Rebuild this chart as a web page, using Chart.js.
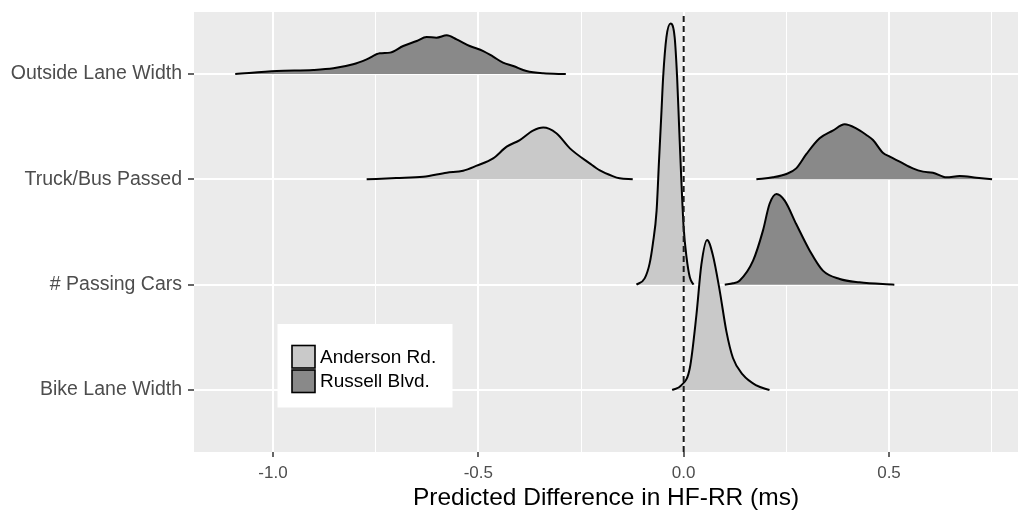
<!DOCTYPE html>
<html><head><meta charset="utf-8">
<script src="https://cdn.jsdelivr.net/npm/chart.js@4/dist/chart.umd.min.js"></script>
<style>html,body{margin:0;padding:0;background:#fff}#wrap{width:1018px;height:512px}</style>
</head><body><div id="wrap"><canvas id="c" width="1018" height="512"></canvas></div>
<script>
// rows, bottom (1) to top (4)
const categories = ['Bike Lane Width', '# Passing Cars', 'Truck/Bus Passed', 'Outside Lane Width'];
const seriesNames = ['Anderson Rd.', 'Russell Blvd.'];
const xTicks = [-1, -0.75, -0.5, -0.25, 0, 0.25, 0.5, 0.75];
const xMajor = [-1, -0.5, 0, 0.5];
const referenceX = 0;
const xTitle = 'Predicted Difference in HF-RR (ms)';

// ridge densities: x values and ridge heights (row units)
const outsideRussellX = [-1.092, -0.991, -0.902, -0.853, -0.805, -0.772, -0.740, -0.715, -0.683, -0.650, -0.626, -0.602, -0.577, -0.553, -0.521, -0.488, -0.464, -0.440, -0.415, -0.383, -0.342, -0.287];
const outsideRussellH = [0, 0.028, 0.038, 0.054, 0.092, 0.139, 0.196, 0.203, 0.266, 0.313, 0.351, 0.345, 0.367, 0.329, 0.266, 0.218, 0.165, 0.108, 0.076, 0.028, 0.006, 0];

const truckAndersonX = [-0.772, -0.700, -0.634, -0.577, -0.537, -0.504, -0.464, -0.431, -0.399, -0.367, -0.342, -0.310, -0.277, -0.229, -0.204, -0.173, -0.156, -0.124];
const truckAndersonH = [0, 0.012, 0.025, 0.063, 0.082, 0.130, 0.199, 0.310, 0.373, 0.462, 0.491, 0.437, 0.294, 0.152, 0.085, 0.031, 0.010, 0];

const truckRussellX = [0.177, 0.217, 0.250, 0.274, 0.299, 0.331, 0.363, 0.392, 0.420, 0.445, 0.461, 0.485, 0.502, 0.526, 0.558, 0.583, 0.607, 0.640, 0.672, 0.713, 0.751];
const truckRussellH = [0, 0.019, 0.051, 0.104, 0.241, 0.389, 0.462, 0.522, 0.484, 0.421, 0.373, 0.253, 0.215, 0.168, 0.104, 0.073, 0.063, 0.019, 0.032, 0.016, 0];

const carsAndersonX = [-0.115, -0.095, -0.083, -0.075, -0.066, -0.060, -0.054, -0.050, -0.042, -0.032, -0.022, -0.016, -0.011, -0.006, 0.000, 0.007, 0.015, 0.024];
const carsAndersonH = [0, 0.06, 0.20, 0.39, 0.70, 1.18, 1.65, 1.97, 2.35, 2.48, 2.35, 1.97, 1.49, 1.02, 0.54, 0.26, 0.07, 0];

const carsRussellX = [0.100, 0.120, 0.136, 0.169, 0.193, 0.209, 0.226, 0.246, 0.274, 0.307, 0.339, 0.380, 0.428, 0.513];
const carsRussellH = [0, 0.013, 0.038, 0.228, 0.513, 0.766, 0.861, 0.798, 0.576, 0.323, 0.133, 0.054, 0.022, 0];

const bikeAndersonX = [-0.028, -0.006, 0.015, 0.031, 0.043, 0.057, 0.071, 0.088, 0.104, 0.120, 0.144, 0.177, 0.209];
const bikeAndersonH = [0, 0.044, 0.209, 0.712, 1.187, 1.424, 1.282, 0.937, 0.557, 0.304, 0.146, 0.044, 0];

const fillColors = ['#C9C9C9', '#898989'];
const yMin = 0.4114, yMax = 4.5886;

function ridge(label, row, xs, hs, series) {
  return {
    label: label,
    data: xs.map((x, i) => ({x: x, y: row + hs[i]})),
    fill: {value: row},
    backgroundColor: fillColors[series],
    borderColor: '#000',
    borderWidth: 2,
    pointRadius: 0,
    cubicInterpolationMode: 'monotone',
    order: 1
  };
}

const datasets = [
  ridge(seriesNames[1], 4, outsideRussellX, outsideRussellH, 1),
  ridge(seriesNames[0], 3, truckAndersonX, truckAndersonH, 0),
  ridge(seriesNames[1], 3, truckRussellX, truckRussellH, 1),
  ridge(seriesNames[0], 2, carsAndersonX, carsAndersonH, 0),
  ridge(seriesNames[1], 2, carsRussellX, carsRussellH, 1),
  ridge(seriesNames[0], 1, bikeAndersonX, bikeAndersonH, 0),
  {
    label: 'ref',
    data: [{x: referenceX, y: yMin}, {x: referenceX, y: yMax}],
    borderColor: '#1a1a1a', borderWidth: 2, borderDash: [6, 4],
    pointRadius: 0, fill: false, order: -1
  }
];

const panelBg = {
  id: 'panelBg',
  beforeDraw(chart) {
    const {ctx, chartArea: a} = chart;
    ctx.save(); ctx.fillStyle = '#EBEBEB';
    ctx.fillRect(a.left, a.top, a.right - a.left, a.bottom - a.top);
    ctx.restore();
  }
};

const boxLegend = {
  id: 'boxLegend',
  afterDraw(chart) {
    const ctx = chart.ctx;
    ctx.save();
    ctx.fillStyle = '#fff';
    ctx.fillRect(277.5, 324, 175, 83.5);
    ctx.font = '19px "Liberation Sans", Arial, sans-serif';
    ctx.textBaseline = 'middle';
    seriesNames.forEach((name, i) => {
      const y = 345.5 + i * 24.5;
      ctx.fillStyle = fillColors[i];
      ctx.fillRect(292, y, 23, 22.5);
      ctx.strokeStyle = '#000'; ctx.lineWidth = 1.6;
      ctx.strokeRect(292, y, 23, 22.5);
      ctx.fillStyle = '#000';
      ctx.fillText(name, 320, y + 12);
    });
    ctx.restore();
  }
};

new Chart(document.getElementById('c'), {
  type: 'line',
  data: {datasets: datasets},
  plugins: [panelBg, boxLegend],
  options: {
    responsive: false, animation: false, devicePixelRatio: 1,
    layout: {padding: {top: 12, right: 0, left: 0, bottom: 0}},
    plugins: {legend: {display: false}, tooltip: {enabled: false}},
    scales: {
      x: {
        type: 'linear', min: -1.1924, max: 0.8141,
        afterBuildTicks: s => { s.ticks = xTicks.map(v => ({value: v})); },
        ticks: {
          autoSkip: false, maxRotation: 0, padding: 6,
          callback: v => xMajor.includes(v) ? v.toFixed(1) : '',
          font: {family: '"Liberation Sans", Arial, sans-serif', size: 17},
          color: '#4D4D4D'
        },
        grid: {
          color: '#fff',
          lineWidth: c => (c.tick && xMajor.includes(c.tick.value)) ? 2 : 1,
          tickColor: c => (c.tick && xMajor.includes(c.tick.value)) ? '#333' : 'rgba(0,0,0,0)',
          tickLength: 5, tickWidth: 1.5
        },
        border: {display: false},
        title: {display: true, text: xTitle, color: '#000',
          font: {family: '"Liberation Sans", Arial, sans-serif', size: 24.5},
          padding: {top: 0, bottom: -1}},
        afterFit: s => { s.height = 60; s.paddingLeft = 0; s.paddingRight = 0; }
      },
      y: {
        type: 'linear', min: yMin, max: yMax,
        afterBuildTicks: s => { s.ticks = categories.map((c, i) => ({value: i + 1})); },
        ticks: {
          autoSkip: false, padding: 6,
          callback: v => categories[v - 1],
          font: {family: '"Liberation Sans", Arial, sans-serif', size: 19.5},
          color: '#4D4D4D'
        },
        grid: {color: '#fff', lineWidth: 2, tickColor: '#333', tickLength: 6, tickWidth: 1.5},
        border: {display: false},
        afterFit: s => { s.width = 194; s.paddingTop = 0; s.paddingBottom = 0; }
      }
    }
  }
});
</script></body></html>
